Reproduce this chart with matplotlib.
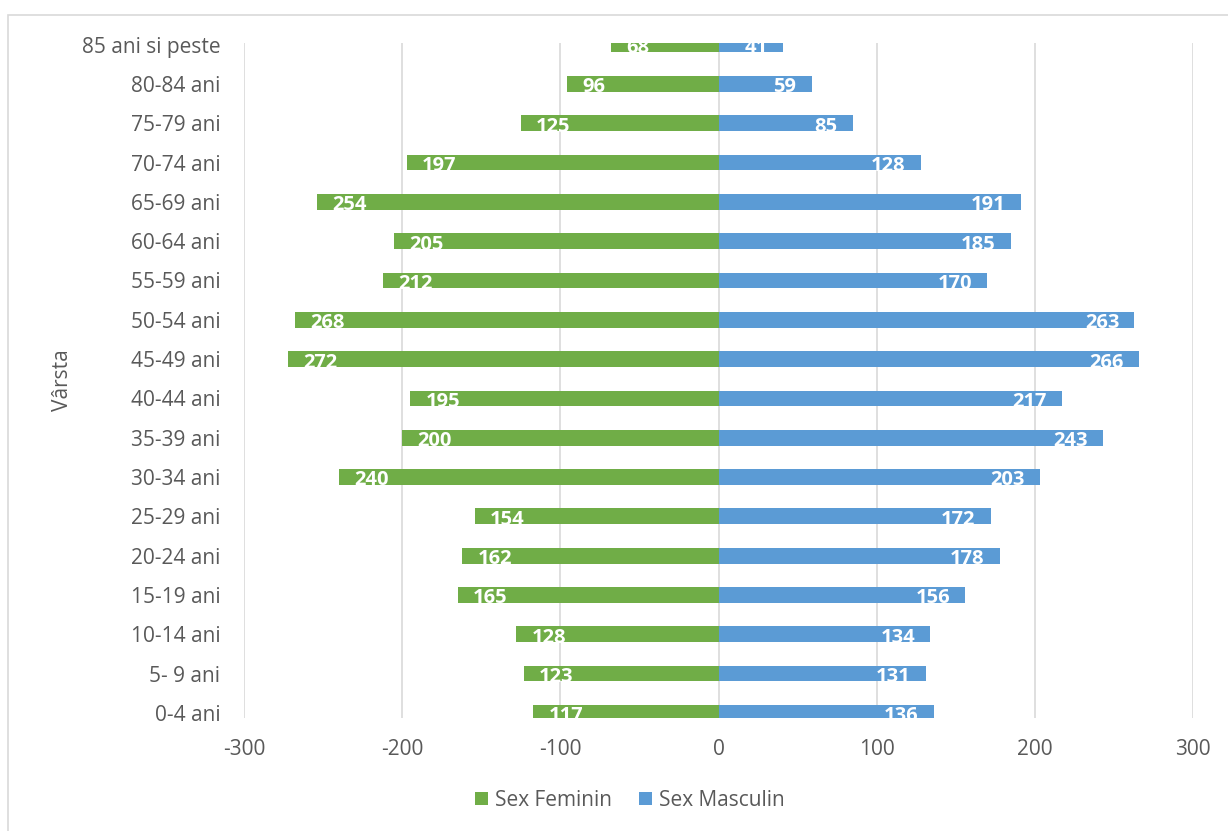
"""
Population pyramid by age group: women (left, green) vs men (right, blue).
"""

import matplotlib.pyplot as plt
import numpy as np
from matplotlib.patches import Rectangle

plt.rcParams["font.family"] = ["Open Sans", "DejaVu Sans"]

# === Data (bottom to top) ===
AGE_GROUPS = [
    "0-4 ani", "5- 9 ani", "10-14 ani", "15-19 ani", "20-24 ani", "25-29 ani",
    "30-34 ani", "35-39 ani", "40-44 ani", "45-49 ani", "50-54 ani", "55-59 ani",
    "60-64 ani", "65-69 ani", "70-74 ani", "75-79 ani", "80-84 ani", "85 ani si peste",
]
FEMALE = [117, 123, 128, 165, 162, 154, 240, 200, 195, 272, 268, 212, 205, 254, 197, 125, 96, 68]
MALE = [136, 131, 134, 156, 178, 172, 203, 243, 217, 266, 263, 170, 185, 191, 128, 85, 59, 41]
X_TICKS = [-300, -200, -100, 0, 100, 200, 300]

GREEN = "#70AD47"
BLUE = "#5B9BD5"
TEXT = "#595959"
GRID = "#D9D9D9"
FS = 14.5

W, H = 1228, 831
fig = plt.figure(figsize=(W / 100, H / 100), dpi=100)

# light chart-area outline (left and top edges only show)
fig.patches.append(Rectangle((8 / W, -0.1), 1.2, 1 - 15 / H + 0.1,
                             transform=fig.transFigure, fill=False,
                             edgecolor=GRID, linewidth=1.2))

ax = fig.add_axes([244 / W, 1 - 718 / H, (1193 - 244) / W, (718 - 43) / H])

y = np.arange(len(AGE_GROUPS))
female_neg = -np.array(FEMALE)
male = np.array(MALE)
bar_h = 0.40

ax.barh(y, female_neg, height=bar_h, color=GREEN, label="Sex Feminin", zorder=3)
ax.barh(y, male, height=bar_h, color=BLUE, label="Sex Masculin", zorder=3)

# value labels at the inside end of each bar
for yi, f, m in zip(y, FEMALE, MALE):
    ax.annotate(f"{f}", xy=(-f, yi), xytext=(11, -2.5), textcoords="offset points",
                ha="left", va="center", color="white", fontsize=FS,
                fontweight="bold", zorder=4, annotation_clip=False, clip_on=True)
    ax.annotate(f"{m}", xy=(m, yi), xytext=(-11, -2.5), textcoords="offset points",
                ha="right", va="center", color="white", fontsize=FS,
                fontweight="bold", zorder=4, annotation_clip=False, clip_on=True)

ax.set_xlim(-300, 300)
ax.set_ylim(-0.13, 17.04)
ax.set_xticks(X_TICKS)
ax.set_xticklabels([str(t) for t in X_TICKS])
ax.set_yticks(y)
ax.set_yticklabels(AGE_GROUPS)

ax.grid(True, axis="x", color=GRID, linewidth=1.2, zorder=0)
for s in ax.spines.values():
    s.set_visible(False)
ax.tick_params(axis="both", length=0, colors=TEXT, labelsize=FS + 0.5)
ax.tick_params(axis="y", pad=17)
ax.tick_params(axis="x", pad=15)

fig.text(62 / W, 1 - 380 / H, "Vârsta", rotation=90, ha="center", va="center",
         color=TEXT, fontsize=FS + 0.5)

leg = fig.legend(loc="center", bbox_to_anchor=(630 / W, 1 - 800 / H), ncol=2,
                 frameon=False, fontsize=FS + 0.5, handlelength=0.6, handleheight=0.6,
                 handletextpad=0.35, columnspacing=1.3)
for t in leg.get_texts():
    t.set_color(TEXT)

fig.savefig("out.png", dpi=100)
